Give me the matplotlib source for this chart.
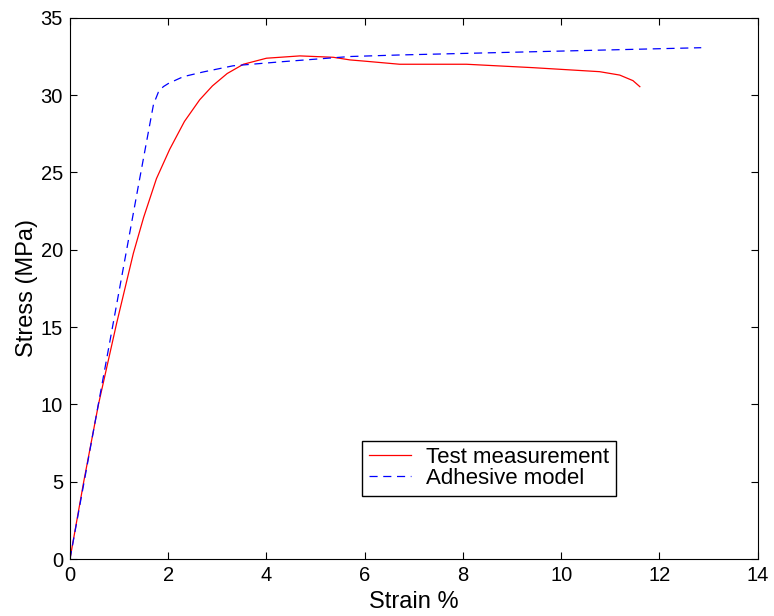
import matplotlib
matplotlib.use('Agg')
import matplotlib.pyplot as plt

# Test measurement (red, solid)
test_strain = [0.0, 0.28, 0.58, 0.95, 1.29, 1.50, 1.76, 2.03, 2.33, 2.64, 2.9, 3.2, 3.53,
               4.0, 4.68, 5.36, 5.70, 6.0, 6.71, 8.07, 9.42, 10.78, 11.19, 11.46, 11.6]
test_stress = [0.0, 5.0, 10.0, 15.25, 19.77, 22.1, 24.6, 26.5, 28.3, 29.7, 30.6, 31.4, 32.0,
               32.39, 32.54, 32.45, 32.28, 32.2, 32.0, 32.0, 31.78, 31.52, 31.3, 30.94, 30.55]

# Adhesive model (blue, dashed)
model_strain = [0.0, 0.88, 1.39, 1.70, 1.80, 1.90, 2.0, 2.17, 2.31, 2.71, 3.32, 4.34, 5.70,
                6.71, 10.1, 12.85]
model_stress = [0.0, 15.25, 24.1, 29.4, 30.2, 30.55, 30.75, 31.0, 31.2, 31.5, 31.9, 32.17, 32.5,
                32.6, 32.86, 33.07]

plt.rcParams['font.family'] = ['Liberation Sans', 'DejaVu Sans']

fig = plt.figure(figsize=(7.74, 6.16), dpi=100)
ax = fig.add_axes([0.0904, 0.0925, 0.8886, 0.8785])

ax.plot(test_strain, test_stress, color='red', linewidth=0.9, label='Test measurement')
ax.plot(model_strain, model_stress, color='blue', linewidth=0.9, linestyle=(0, (6.5, 4.5)),
        label='Adhesive model')

ax.set_xlim(0, 14)
ax.set_ylim(0, 35)
ax.set_xticks(range(0, 15, 2))
ax.set_yticks(range(0, 36, 5))
ax.tick_params(direction='in', top=True, right=True, labelsize=14.5, length=5, pad=5)
ax.set_xlabel('Strain %', fontsize=17, labelpad=4)
ax.set_ylabel('Stress (MPa)', fontsize=17, labelpad=2)

leg = ax.legend(loc='lower left', bbox_to_anchor=(0.4244, 0.1167), borderaxespad=0,
                fontsize=16, fancybox=False, edgecolor='black', framealpha=1,
                handlelength=1.9, handletextpad=0.7, borderpad=0.3, labelspacing=0.0)
leg.get_frame().set_linewidth(1.0)

fig.savefig('out.png', dpi=100)
